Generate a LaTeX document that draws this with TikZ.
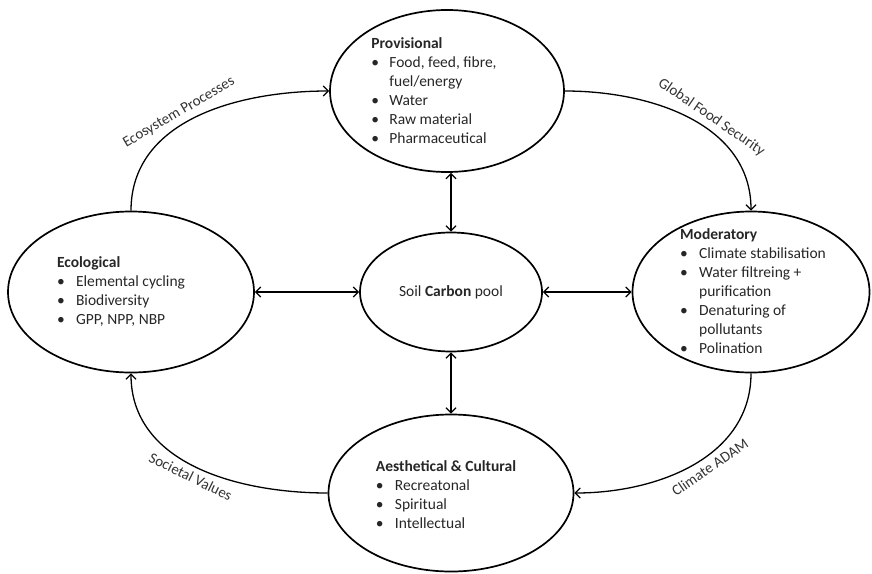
\documentclass[tikz,border=0pt]{standalone}
\usepackage{fontspec}
\setmainfont{Carlito}
\usetikzlibrary{arrows.meta, positioning, shapes.geometric}
\tikzset{
    pool/.style={ellipse, draw, line width=1.7pt, inner sep=0pt},
    pooltext/.style={align=left, inner sep=0pt, text=black!85,
                     font=\fontsize{15.5}{19}\selectfont},
    link/.style={{Straight Barb[length=5pt, width=10pt]}-{Straight Barb[length=5pt, width=10pt]},
                 line width=1.3pt},
    flow/.style={-{Straight Barb[length=5pt, width=10pt]}, line width=1.3pt},
    flowlabel/.style={sloped, inner sep=1pt, text=black!80,
                      font=\fontsize{15}{17}\selectfont},
}
\newcommand{\bl}{\textbullet}

\begin{document}
\begin{tikzpicture}[x=1pt, y=-1pt]
\useasboundingbox (0,0) rectangle (872,573);

% --- pools ---
\node[pool, minimum width=234pt, minimum height=162pt] (prov) at (447,91) {};
\node[pool, minimum width=182pt, minimum height=119pt] (soil) at (451,292) {};
\node[pool, minimum width=246pt, minimum height=161pt] (eco) at (131,292) {};
\node[pool, minimum width=237pt, minimum height=161pt] (mod) at (751,292) {};
\node[pool, minimum width=245pt, minimum height=157pt] (aes) at (451,493) {};

% --- texts ---
\node[pooltext] (prov-txt) at (434,92) {%
  \begin{tabular}{@{}p{18pt}@{}l@{}}
  \multicolumn{2}{@{}l@{}}{\textbf{Provisional}}\\
  \bl & Food, feed, fibre,\\
      & fuel/energy\\
  \bl & Water\\
  \bl & Raw material\\
  \bl & Pharmaceutical
  \end{tabular}};
\node[pooltext] (soil-txt) at (soil) {Soil \textbf{Carbon} pool};
\node[pooltext] (eco-txt) at (121,292) {%
  \begin{tabular}{@{}p{19pt}@{}l@{}}
  \multicolumn{2}{@{}l@{}}{\textbf{Ecological}}\\
  \bl & Elemental cycling\\
  \bl & Biodiversity\\
  \bl & GPP, NPP, NBP
  \end{tabular}};
\node[pooltext] (mod-txt) at (753,293) {%
  \begin{tabular}{@{}p{19pt}@{}l@{}}
  \multicolumn{2}{@{}l@{}}{\textbf{Moderatory}}\\
  \bl & Climate stabilisation\\
  \bl & Water filtreing +\\
      & purification\\
  \bl & Denaturing of\\
      & pollutants\\
  \bl & Polination
  \end{tabular}};
\node[pooltext] (aes-txt) at (446,496) {%
  \begin{tabular}{@{}p{19pt}@{}l@{}}
  \multicolumn{2}{@{}l@{}}{\textbf{Aesthetical \& Cultural}}\\
  \bl & Recreatonal\\
  \bl & Spiritual\\
  \bl & Intellectual
  \end{tabular}};

% --- links to the soil pool ---
\draw[link] (soil.north |- prov.south) -- (soil.north);
\draw[link] (soil.south) -- (aes.north);
\draw[link] (eco.east) -- (soil.west);
\draw[link] (soil.east) -- (mod.west);

% --- outer cycle ---
\draw[flow] (eco.north) to[out=90, in=180]
    node[flowlabel, above=4pt, pos=0.45] (lab-eco) {Ecosystem Processes} (prov.west);
\draw[flow] (prov.east) to[out=0, in=90]
    node[flowlabel, above=4pt, pos=0.57] (lab-food) {Global Food Security} (mod.north);
\draw[flow] (mod.south) to[out=-90, in=0]
    node[flowlabel, below=4pt, pos=0.45] (lab-clim) {Climate ADAM} (aes.east);
\draw[flow] (aes.west) to[out=180, in=-90]
    node[flowlabel, below=4pt, pos=0.5] (lab-soc) {Societal Values} (eco.south);
\end{tikzpicture}
\end{document}
